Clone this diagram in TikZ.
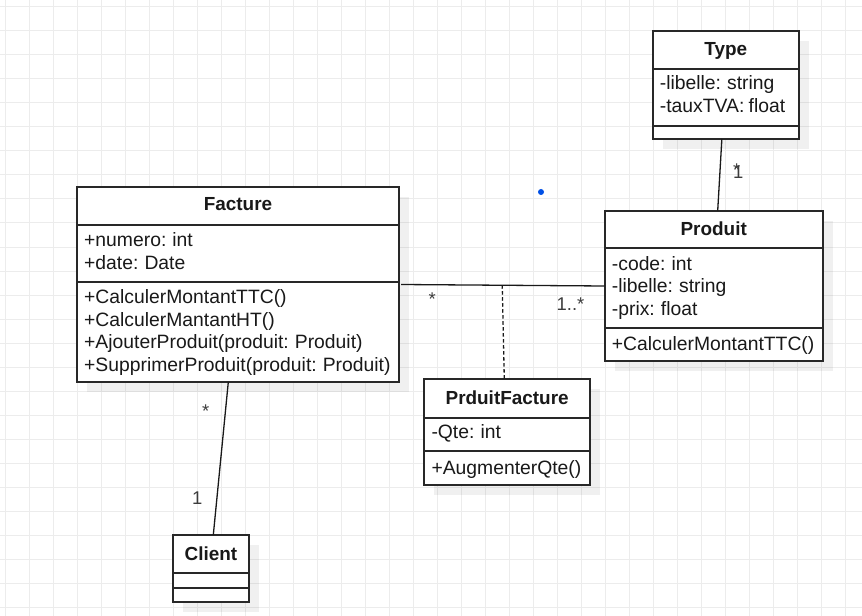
\documentclass[tikz,border=0pt]{standalone}
\usepackage{fontspec}
\setmainfont[WordSpace=0.8]{Liberation Sans}
\usetikzlibrary{calc}
\definecolor{gridc}{RGB}{236,236,236}
\definecolor{boxc}{RGB}{40,40,40}
\definecolor{txtc}{RGB}{25,25,25}
\definecolor{lblc}{RGB}{60,60,60}
\definecolor{dotc}{RGB}{0,80,230}
\tikzset{
  gridline/.style={draw=gridc, line width=1bp},
  umlshadow/.style={fill=black, fill opacity=0.06, draw=none},
  classbox/.style={draw=boxc, line width=1.8bp, fill=white, inner sep=0pt, outer sep=0pt, anchor=north west, rectangle},
  sepline/.style={draw=boxc, line width=1.8bp},
  txt/.style={font=\fontsize{19.4}{22.7}\selectfont, text=txtc, inner sep=0pt, anchor=base west},
  ttl/.style={font=\fontsize{19}{22.7}\selectfont\bfseries, text=txtc, inner sep=0pt, anchor=base},
  lbl/.style={font=\fontsize{18.5}{22}\selectfont, text=lblc, inner sep=0pt},
  assoc/.style={draw=black!90, line width=1.3bp},
  dashlink/.style={draw=black!90, line width=1.3bp, dash pattern=on 3.5bp off 2.5bp}
}
\begin{document}
\begin{tikzpicture}[x=1bp,y=-1bp]
\useasboundingbox (0,0) rectangle (862,616);
\fill[white] (0,0) rectangle (862,616);
% grid
\foreach \gx in {5,29,...,861} \draw[gridline] (\gx,0) -- (\gx,616);
\foreach \gy in {7,31,...,615} \draw[gridline] (0,\gy) -- (862,\gy);

% shadows
\fill[umlshadow] (87,197) rectangle (409,392);
\fill[umlshadow] (614.7,220.7) rectangle (832.7,371);
\fill[umlshadow] (662.7,41) rectangle (809,149);
\fill[umlshadow] (434.3,389.3) rectangle (600,495);
\fill[umlshadow] (182.7,545) rectangle (259.3,611.7);

% Facture
\node[classbox, minimum width=322bp, minimum height=195bp] (facture) at (77,187) {};
\draw[sepline] (77,225) -- (399,225);
\draw[sepline] (77,282) -- (399,282);
\node[ttl] (factureT) at (238,211) {Facture};
\node[txt] (factureA1) at (84,246.7) {+numero: int};
\node[txt] (factureA2) at (84,269.4) {+date: Date};
\node[txt] (factureM1) at (84,303.3) {+CalculerMontantTTC()};
\node[txt] (factureM2) at (84,326) {+CalculerMantantHT()};
\node[txt] (factureM3) at (84,348.7) {+AjouterProduit(produit: Produit)};
\node[txt] (factureM4) at (84,371.4) {+SupprimerProduit(produit: Produit)};

% Produit
\node[classbox, minimum width=218bp, minimum height=150.3bp] (produit) at (604.7,210.7) {};
\draw[sepline] (604.7,247.7) -- (822.7,247.7);
\draw[sepline] (604.7,328.3) -- (822.7,328.3);
\node[ttl] (produitT) at (713.7,235.7) {Produit};
\node[txt] (produitA1) at (611.7,270) {-code: int};
\node[txt] (produitA2) at (611.7,292.7) {-libelle: string};
\node[txt] (produitA3) at (611.7,315.4) {-prix: float};
\node[txt] (produitM1) at (611.7,350.7) {+CalculerMontantTTC()};

% Type
\node[classbox, minimum width=146.3bp, minimum height=108bp] (type) at (652.7,31) {};
\draw[sepline] (652.7,69) -- (799,69);
\draw[sepline] (652.7,126) -- (799,126);
\node[ttl] (typeT) at (725.85,55.7) {Type};
\node[txt] (typeA1) at (659.7,90) {-libelle: string};
\node[txt] (typeA2) at (659.7,112.7) {-tauxTVA: float};

% PrduitFacture
\node[classbox, minimum width=165.7bp, minimum height=105.7bp] (pf) at (424.3,379.3) {};
\draw[sepline] (424.3,417.7) -- (590,417.7);
\draw[sepline] (424.3,451) -- (590,451);
\node[ttl] (pfT) at (507.15,404.3) {PrduitFacture};
\node[txt] (pfA1) at (431.3,438.3) {-Qte: int};
\node[txt] (pfM1) at (431.3,474) {+AugmenterQte()};

% Client
\node[classbox, minimum width=76.6bp, minimum height=66.7bp] (client) at (172.7,535) {};
\draw[sepline] (172.7,572.7) -- (249.3,572.7);
\draw[sepline] (172.7,588.3) -- (249.3,588.3);
\node[ttl] (clientT) at (211,560) {Client};

% connectors
\coordinate (fpA) at ([xshift=2bp]facture.east |- 0,284.5);
\coordinate (fpB) at (produit.west |- 0,286);
\draw[assoc] (fpA) -- (fpB);
\coordinate (fpMid) at ($(fpA)!0.497!(fpB)$);
\draw[dashlink] (fpMid) -- ([xshift=-2.85bp]pf.north);
\draw[assoc] ([xshift=-4bp]type.south) -- ([xshift=4bp]produit.north);
\draw[assoc] ([xshift=-9.7bp]facture.south) -- ([xshift=2.3bp]client.north);

% multiplicity labels
\node[lbl] (l1) at (432.3,299.5) {*};
\node[lbl, anchor=base west] (l2) at (556.5,310) {1..*};
\node[lbl, anchor=base west] (l3) at (733,179) {\rlap{\raisebox{2bp}{*}}1};
\node[lbl] (l5) at (205.7,411.5) {*};
\node[lbl] (l6) at (197.3,498.3) {1};

% blue dot
\fill[dotc] (541,192) circle (3bp);
\end{tikzpicture}
\end{document}
